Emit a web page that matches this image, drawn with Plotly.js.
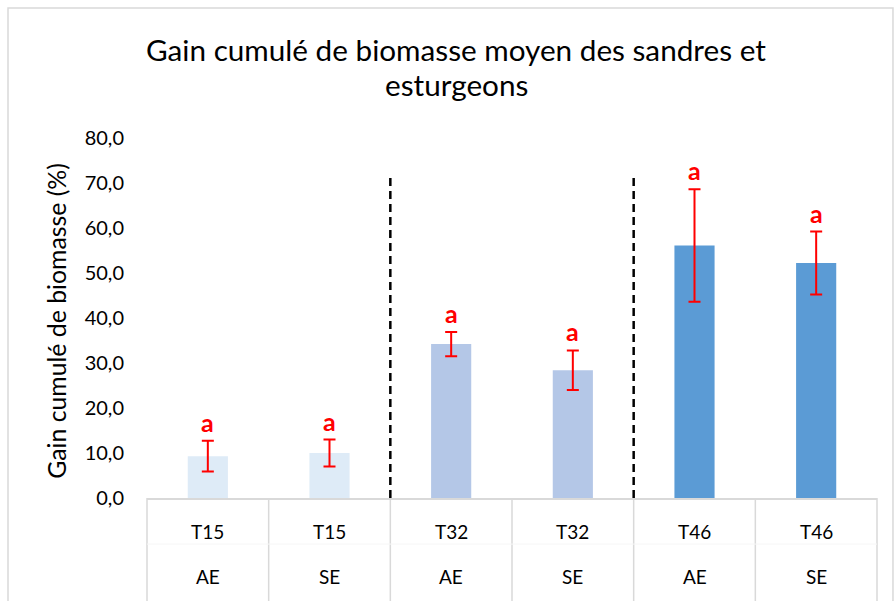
<!DOCTYPE html>
<html>
<head>
<meta charset="utf-8">
<script src="https://cdn.plot.ly/plotly-3.0.1.min.js"></script>
<style>html,body{margin:0;padding:0;background:#fff;}#chart{width:894px;height:601px;}</style>
</head>
<body>
<div id="chart"></div>
<script>
// Data
var groups = ['T15', 'T15', 'T32', 'T32', 'T46', 'T46'];
var treatments = ['AE', 'SE', 'AE', 'SE', 'AE', 'SE'];
var means = [9.3, 10.0, 34.2, 28.4, 56.1, 52.2];
var errors = [3.4, 3.0, 2.7, 4.4, 12.5, 7.0];
var letters = ['a', 'a', 'a', 'a', 'a', 'a'];
var separatorsAfter = [1.5, 3.5];   // boundaries between time groups
var separatorTop = 72;
var yTicks = [0, 10, 20, 30, 40, 50, 60, 70, 80];
var titleLines = ['Gain cumulé de biomasse moyen des sandres et', 'esturgeons'];
var yTitle = 'Gain cumulé de biomasse (%)';

var groupColors = {T15: '#DEEBF7', T32: '#B4C7E7', T46: '#5B9BD5'};
var FONT = 'Lato, "Noto Sans", sans-serif';

var cats = groups.map(function (g, i) { return g + ' ' + treatments[i]; });

var trace = {
  type: 'bar',
  x: cats,
  y: means,
  marker: {color: groups.map(function (g) { return groupColors[g]; })},
  error_y: {type: 'data', array: errors, visible: true, color: '#FF0000', thickness: 2, width: 6},
  hoverinfo: 'x+y'
};

var annotations = [];
cats.forEach(function (c, i) {
  annotations.push({xref: 'x', yref: 'y', x: c, y: means[i] + errors[i], text: letters[i],
    showarrow: false, xanchor: 'center', yanchor: 'bottom', yshift: 2,
    font: {family: FONT, size: 25, color: '#FF0000', weight: 'bold'}});
  annotations.push({xref: 'x', yref: 'paper', x: c, y: -0.094, text: groups[i],
    showarrow: false, xanchor: 'center', yanchor: 'middle',
    font: {family: FONT, size: 19, color: '#000'}});
  annotations.push({xref: 'x', yref: 'paper', x: c, y: -0.217, text: treatments[i],
    showarrow: false, xanchor: 'center', yanchor: 'middle',
    font: {family: FONT, size: 19, color: '#000'}});
});
// axis title
annotations.push({xref: 'paper', yref: 'paper', x: -0.1233, y: 0.492, textangle: -90,
  xanchor: 'center', yanchor: 'middle',
  text: yTitle, showarrow: false,
  font: {family: FONT, size: 24.8, color: '#000'}});
// chart title (two lines)
var titleY = [1.247, 1.148];
titleLines.forEach(function (t, i) {
  annotations.push({xref: 'paper', yref: 'paper', x: 0.4233, y: titleY[i], text: t,
    xanchor: 'center', yanchor: 'middle', showarrow: false,
    font: {family: FONT, size: 29.7, color: '#000'}});
});

var shapes = [];
// outer chart border
shapes.push({type: 'rect', xref: 'paper', yref: 'paper', x0: -0.1904, x1: 1.0219, y0: -0.5, y1: 1.3611,
  line: {color: '#D9D9D9', width: 1.5}, fillcolor: 'rgba(0,0,0,0)', layer: 'below'});
// table vertical lines
for (var k = 0; k <= cats.length; k++) {
  shapes.push({type: 'line', xref: 'paper', yref: 'paper', x0: k / cats.length, x1: k / cats.length,
    y0: 0, y1: -0.3, line: {color: '#D9D9D9', width: 1.5}});
}
// faint row separator
shapes.push({type: 'line', xref: 'paper', yref: 'paper', x0: 0, x1: 1, y0: -0.128, y1: -0.128,
  line: {color: '#F6F6F6', width: 1}});
// dashed group separators
separatorsAfter.forEach(function (s) {
  shapes.push({type: 'line', xref: 'x', yref: 'y', x0: s, x1: s, y0: 0, y1: separatorTop,
    line: {color: '#000', width: 2.5, dash: '8px,5px'}});
});

var layout = {
  width: 894, height: 601,
  margin: {l: 147, r: 17, t: 138, b: 103},
  paper_bgcolor: '#fff', plot_bgcolor: '#fff',
  showlegend: false,
  bargap: 0.67,
  xaxis: {type: 'category', showticklabels: false, ticks: '', showgrid: false, zeroline: false,
    showline: true, linecolor: '#D9D9D9', linewidth: 1.5, range: [-0.5, 5.5], fixedrange: true},
  yaxis: {range: [0, 80], tickvals: yTicks, ticktext: yTicks.map(function (v) { return v.toFixed(1).replace('.', ','); }),
    showgrid: false, zeroline: false, showline: false, ticks: '', ticklabelstandoff: 22,
    tickfont: {family: FONT, size: 20, color: '#000'}, fixedrange: true},
  annotations: annotations,
  shapes: shapes
};

Plotly.newPlot('chart', [trace], layout, {displayModeBar: false, staticPlot: true});
</script>
</body>
</html>
